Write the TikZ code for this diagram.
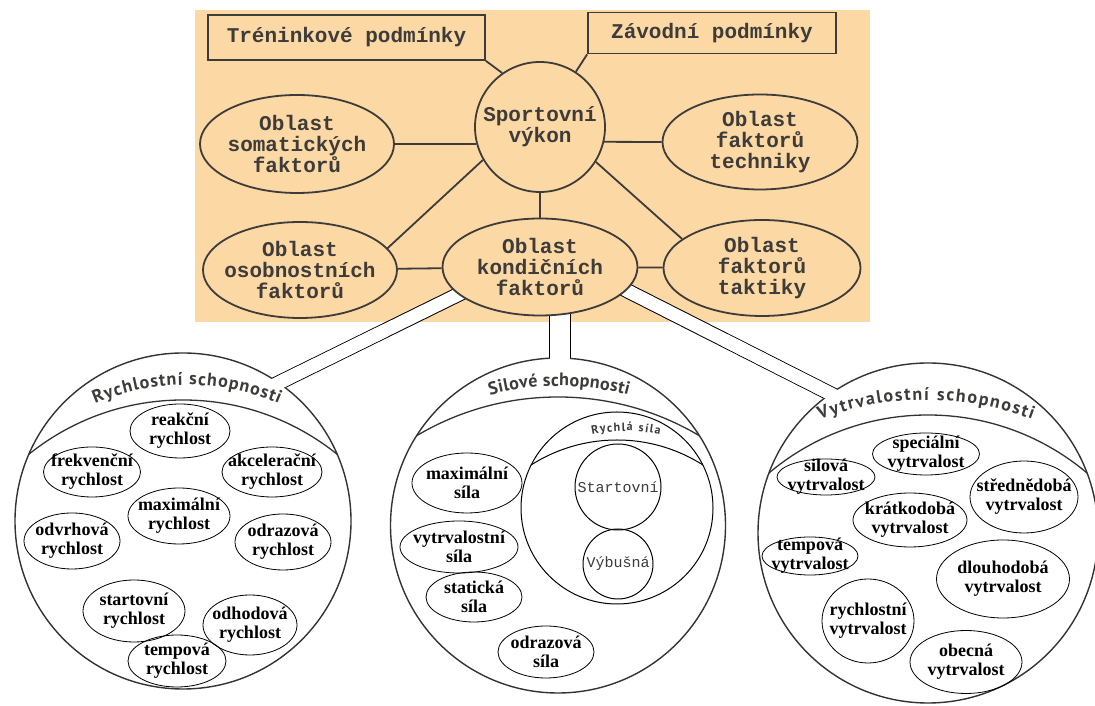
\documentclass[tikz,border=0pt]{standalone}
\usepackage{fontspec}
\setmainfont{Liberation Serif}
\newfontfamily\typefont{Liberation Mono}
\newfontfamily\handfont{PT Sans}
\usetikzlibrary{shapes.geometric,decorations.text,backgrounds,calc}
\definecolor{paper}{RGB}{251,216,164}
\definecolor{ink}{RGB}{62,60,58}

\begin{document}
\begin{tikzpicture}[x=1pt, y=1pt,
    factor/.style={ellipse, draw=ink, line width=1.8pt, fill=paper, inner sep=0pt},
    cond/.style={rectangle, draw=ink, line width=1.8pt, fill=paper, text=ink,
      font=\typefont\bfseries\fontsize{21}{21}\selectfont},
    flbl/.style={align=center, text=ink, font=\typefont\bfseries\fontsize{21}{21}\selectfont},
    link/.style={draw=ink, line width=1.8pt},
    ability/.style={circle, draw=black!80, line width=1.4pt, fill=white, inner sep=0pt},
    rim/.style={draw=black!80, line width=1.3pt},
    bubble/.style={ellipse, draw, line width=0.8pt, inner sep=0pt},
    blbl/.style={align=center, font=\bfseries\fontsize{18}{19}\selectfont},
    mlbl/.style={text=ink, font=\typefont\fontsize{15}{15}\selectfont},
    pipe/.style={draw=black, line width=1pt, double=white, double distance=#1},
    band/.style={decorate, decoration={text along path, text align={fit to path},
      text color=ink, text={|\handfont\bfseries\fontsize{18}{18}\selectfont|#1}}},
    smallband/.style={decorate, decoration={text along path, text align={fit to path},
      text color=ink, text={|\handfont\bfseries\fontsize{12}{12}\selectfont|#1}}}]
  \useasboundingbox (0,0) rectangle (1095,706);

  \node[factor, circle, minimum size=130pt, flbl] (spv) at (540,579) {Sportovní\\výkon};
  \node[cond, minimum width=277pt, minimum height=45pt] (trn) at (346.5,668.5) {Tréninkové podmínky};
  \node[cond, minimum width=248pt, minimum height=41pt] (zav) at (712,673) {Závodní podmínky};
  \node[factor, minimum width=194pt, minimum height=98pt,
    label={[flbl]center:Oblast\\somatických\\faktorů}] (som) at (297,562) {};
  \node[factor, minimum width=195pt, minimum height=95pt,
    label={[flbl]center:Oblast\\faktorů\\techniky}] (tec) at (760,564) {};
  \node[factor, minimum width=194pt, minimum height=96pt,
    label={[flbl]center:Oblast\\osobnostních\\faktorů}] (oso) at (300,436) {};
  \node[factor, minimum width=195pt, minimum height=97pt,
    label={[flbl]center:Oblast\\kondičních\\faktorů}] (kon) at (540,439) {};
  \node[factor, minimum width=197pt, minimum height=96pt,
    label={[flbl]center:Oblast\\faktorů\\taktiky}] (tak) at (762,438) {};

  \draw[link] (trn.south east) -- (spv.125);
  \draw[link] (zav.south west) -- (spv.57);
  \draw[link] (som.east) -- (spv.195);
  \draw[link] (spv.-13) -- (tec.west);
  \draw[link] (spv.210) -- (oso.14);
  \draw[link] (spv) -- (kon);
  \draw[link] (spv.-32) -- (tak.160);
  \draw[link] (oso) -- (kon);
  \draw[link] (kon) -- (tak);

  \node[ability, minimum size=336pt] (rys) at (183,185) {};
  \node[ability, minimum size=335pt] (sis) at (558,180.5) {};
  \node[ability, minimum size=340pt] (vys) at (928,173) {};

  \coordinate (pL0) at (500,432);
  \coordinate (pL1) at (270.7,319.2);
  \coordinate (pM0) at (560,426);
  \coordinate (pM1) at (560,336);
  \coordinate (pR0) at (609,424.5);
  \coordinate (pR1) at (841.7,306.6);

  \begin{scope}[on background layer]
    \fill[paper] (195,384) rectangle (870,696);
    \draw[pipe=13pt] (pL0) -- (pL1);
    \draw[pipe=20pt] (pM0) -- (pM1);
    \draw[pipe=13pt] (pR0) -- (pR1);
  \end{scope}
  \draw[white, line width=13pt] ($(pL0)!0.5!(pL1)$) -- (pL1);
  \draw[white, line width=20pt] ($(pM0)!0.5!(pM1)$) -- (pM1);
  \draw[white, line width=13pt] ($(pR0)!0.5!(pR1)$) -- (pR1);

  \begin{scope}
    \clip (rys.center) circle[radius=168];
    \draw[rim] (183,60) circle[radius=246];
  \end{scope}
  \begin{scope}
    \clip (sis.center) circle[radius=167.5];
    \draw[rim] (558,32) circle[radius=277];
  \end{scope}
  \begin{scope}
    \clip (vys.center) circle[radius=170];
    \draw[rim] (928,44) circle[radius=247];
  \end{scope}

  \path[band={Rychlostní schopnosti}] ($(187,86)+(113:235)$) arc[start angle=113, end angle=67, radius=235];
  \path[band={Silové schopnosti}] ($(559,51)+(104.9:269)$) arc[start angle=104.9, end angle=75.1, radius=269];
  \path[band={Vytrvalostní schopnosti}] ($(926,6)+(110.7:300)$) arc[start angle=110.7, end angle=69.3, radius=300];

  \node[bubble, minimum width=100pt, minimum height=54pt, label={[blbl]center:reakční\\rychlost}] (rea) at (180,275) {};
  \node[bubble, minimum width=97pt, minimum height=50pt, label={[blbl]center:frekvenční\\rychlost}] (fre) at (92,234) {};
  \node[bubble, minimum width=100pt, minimum height=50pt, label={[blbl]center:akcelerační\\rychlost}] (akc) at (272,234) {};
  \node[bubble, minimum width=102pt, minimum height=56pt, label={[blbl]center:maximální\\rychlost}] (mxr) at (179,190) {};
  \node[bubble, minimum width=96pt, minimum height=56pt, label={[blbl]center:odvrhová\\rychlost}] (odv) at (72,165) {};
  \node[bubble, minimum width=96pt, minimum height=56pt, label={[blbl]center:odrazová\\rychlost}] (odr) at (283,164) {};
  \node[bubble, minimum width=102pt, minimum height=62pt, label={[blbl]center:startovní\\rychlost}] (str) at (134,95) {};
  \node[bubble, minimum width=94pt, minimum height=60pt, label={[blbl]center:odhodová\\rychlost}] (odh) at (250,81) {};
  \node[bubble, minimum width=98pt, minimum height=52pt, label={[blbl]center:tempová\\rychlost}] (tmr) at (177,45) {};

  \node[circle, draw, line width=1pt, minimum size=192pt] (rsi) at (617,198) {};
  \begin{scope}
    \clip (rsi.center) circle[radius=96];
    \draw[line width=1pt] (617,106) circle[radius=160];
  \end{scope}
  \path[smallband={Rychlá síla}] ($(626,106)+(101.6:169)$) arc[start angle=101.6, end angle=78.4, radius=169];
  \node[circle, draw, line width=1pt, minimum size=86pt, label={[mlbl]center:Startovní}] (sto) at (618,219) {};
  \node[circle, draw, line width=1pt, minimum size=70pt, label={[mlbl]center:Výbušná}] (vyb) at (618,142) {};
  \node[bubble, minimum width=110pt, minimum height=60pt, label={[blbl]center:maximální\\síla}] (mxs) at (467,223) {};
  \node[bubble, minimum width=118pt, minimum height=52pt, label={[blbl]center:vytrvalostní\\síla}] (vts) at (459,159) {};
  \node[bubble, minimum width=96pt, minimum height=50pt, label={[blbl]center:statická\\síla}] (sts) at (474,109) {};
  \node[bubble, minimum width=96pt, minimum height=52pt, label={[blbl]center:odrazová\\síla}] (ods) at (546,54) {};

  \node[bubble, minimum width=107pt, minimum height=42pt, label={[blbl]center:speciální\\vytrvalost}] (spe) at (926,252) {};
  \node[bubble, minimum width=98pt, minimum height=36pt, label={[blbl]center:silová\\vytrvalost}] (slv) at (826,229) {};
  \node[bubble, minimum width=108pt, minimum height=72pt, label={[blbl]center:střednědobá\\vytrvalost}] (sdv) at (1024,209) {};
  \node[bubble, minimum width=114pt, minimum height=54pt, label={[blbl]center:krátkodobá\\vytrvalost}] (kdv) at (910,186) {};
  \node[bubble, minimum width=96pt, minimum height=38pt, label={[blbl]center:tempová\\vytrvalost}] (tmv) at (810,150) {};
  \node[bubble, minimum width=133pt, minimum height=78pt, label={[blbl]center:dlouhodobá\\vytrvalost}] (ddv) at (1003,127) {};
  \node[bubble, minimum width=92pt, minimum height=84pt, label={[blbl]center:rychlostní\\vytrvalost}] (ryv) at (868,85) {};
  \node[bubble, minimum width=112pt, minimum height=63pt, label={[blbl]center:obecná\\vytrvalost}] (obv) at (966,44) {};
\end{tikzpicture}
\end{document}
